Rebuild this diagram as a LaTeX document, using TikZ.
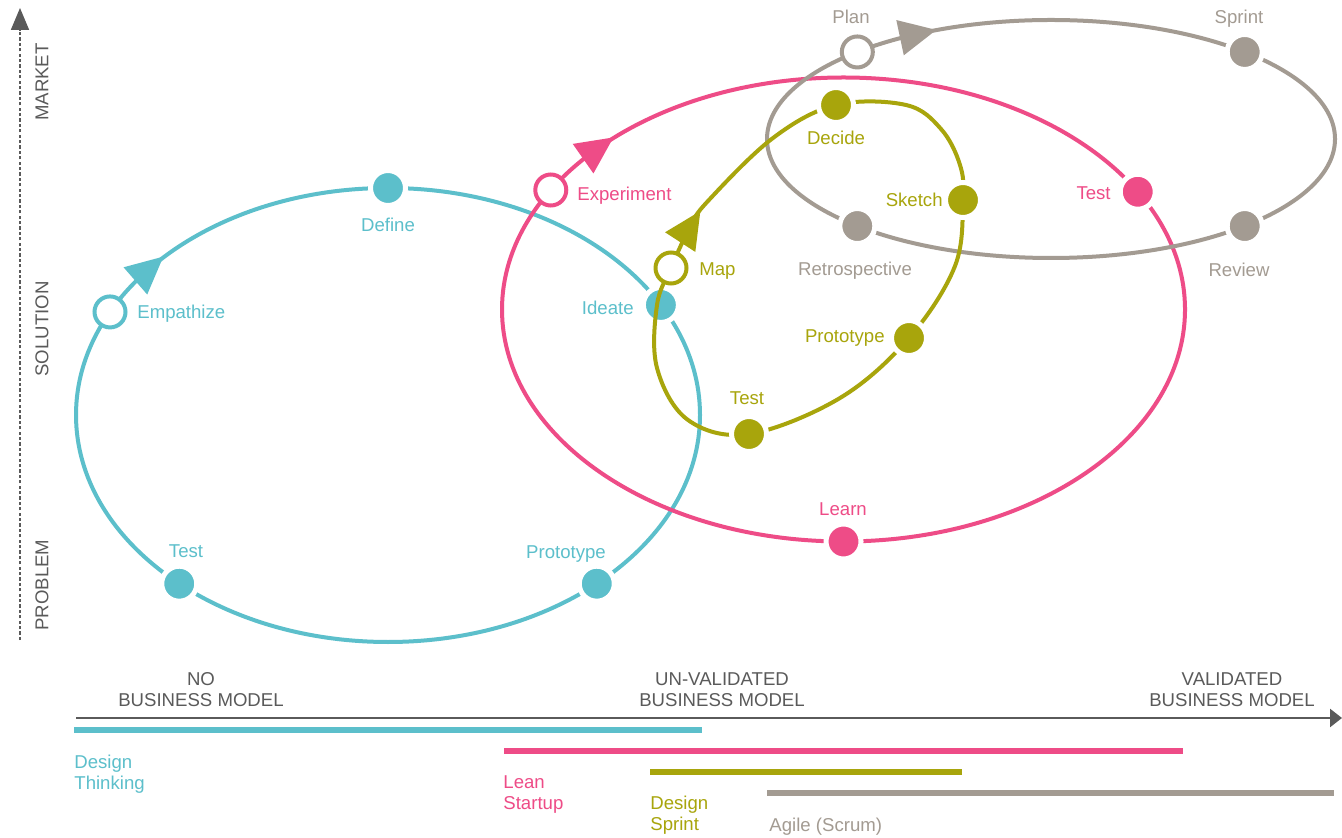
\documentclass[tikz,border=0pt]{standalone}
\usepackage{fontspec}
\setmainfont{Liberation Sans}
\usetikzlibrary{arrows.meta,calc}
\definecolor{dtc}{HTML}{5CBFCB}
\definecolor{lsc}{HTML}{EE4C87}
\definecolor{dsc}{HTML}{A8A50C}
\definecolor{agc}{HTML}{A39B92}
\definecolor{axc}{HTML}{5A5A5A}
\newcommand\arrhead[3]{\fill[#3] ($(#1)+(#2:19)$) -- ($(#1)+(#2+135:25.5)$) -- ($(#1)+(#2-135:25.5)$) -- cycle;}
\tikzset{
  dotnode/.style={circle, fill=#1, draw=white, line width=2.5pt, minimum size=17.5pt, inner sep=0pt},
  ringnode/.style={circle, fill=white, draw=#1, line width=2pt, minimum size=15.5pt, inner sep=0pt},
  loopline/.style={draw=#1, line width=2pt},
  txt/.style={text=#1, font=\fontsize{9.3}{11}\selectfont, inner sep=0pt},
  barline/.style={draw=#1, line width=3.25pt},
}
\begin{document}
\begin{tikzpicture}[x=0.5pt,y=-0.5pt]
\useasboundingbox[fill=white] (0,0) rectangle (1342,838);
% ---------- vertical axis
\coordinate (vb) at (20,640);
\coordinate (vt) at (20,8);
\draw[axc, line width=0.9pt, dash pattern=on 1.6pt off 1.1pt, -{Triangle[length=11pt,width=9pt]}] (vb) -- (vt);
\node[txt=axc, rotate=90] (market) at (42,82) {MARKET};
\node[txt=axc, rotate=90] (solution) at (42,329) {SOLUTION};
\node[txt=axc, rotate=90] (problem) at (42,585) {PROBLEM};
% ---------- horizontal axis
\coordinate (hl) at (76,718);
\coordinate (hr) at (1342,718);
\draw[axc, line width=1.25pt, -{Triangle[length=6pt,width=9pt]}] (hl) -- (hr);
\node[txt=axc, anchor=mid] (no1) at (201,680) {NO};
\node[txt=axc, anchor=mid] (no2) at (201,701) {BUSINESS MODEL};
\node[txt=axc, anchor=mid] (un1) at (722,680) {UN-VALIDATED};
\node[txt=axc, anchor=mid] (un2) at (722,701) {BUSINESS MODEL};
\node[txt=axc, anchor=mid] (va1) at (1232,680) {VALIDATED};
\node[txt=axc, anchor=mid] (va2) at (1232,701) {BUSINESS MODEL};
% ---------- bars
\coordinate (b1l) at (74,730);  \coordinate (b1r) at (702,730);
\coordinate (b2l) at (504,751); \coordinate (b2r) at (1183,751);
\coordinate (b3l) at (650,772); \coordinate (b3r) at (962,772);
\coordinate (b4l) at (767,793); \coordinate (b4r) at (1334,793);
\draw[barline=dtc] (b1l) -- (b1r);
\draw[barline=lsc] (b2l) -- (b2r);
\draw[barline=dsc] (b3l) -- (b3r);
\draw[barline=agc] (b4l) -- (b4r);
\node[txt=dtc, anchor=mid west] (dt1) at (74,763) {Design};
\node[txt=dtc, anchor=mid west] (dt2) at (74,784) {Thinking};
\node[txt=lsc, anchor=mid west] (ls1) at (503,783) {Lean};
\node[txt=lsc, anchor=mid west] (ls2) at (503,804) {Startup};
\node[txt=dsc, anchor=mid west] (ds1) at (650,804) {Design};
\node[txt=dsc, anchor=mid west] (ds2) at (650,825) {Sprint};
\node[txt=agc, anchor=mid west] (ag1) at (769,826) {Agile (Scrum)};
% ---------- Design Thinking loop
\coordinate (dtC) at (388,415);
\draw[loopline=dtc] (dtC) ellipse [x radius=312, y radius=227];
\coordinate (dtA) at ($(dtC)+(220:312 and 227)$);
\arrhead{dtA}{-41}{dtc}
\node[ringnode=dtc] (emp) at ($(dtC)+(207:312 and 227)$) {};
\node[dotnode=dtc] (def) at ($(dtC)+(270:312 and 227)$) {};
\node[dotnode=dtc] (ide) at ($(dtC)+(331:312 and 227)$) {};
\node[dotnode=dtc] (pro) at ($(dtC)+(48:312 and 227)$) {};
\node[dotnode=dtc] (tst) at ($(dtC)+(132:312 and 227)$) {};
\node[txt=dtc, anchor=mid west] (empL) at (137,313) {Empathize};
\node[txt=dtc, anchor=mid] (defL) at (388,226) {Define};
\node[txt=dtc, anchor=mid east] (ideL) at (634,309) {Ideate};
\node[txt=dtc, anchor=mid] (proL) at (566,553) {Prototype};
\node[txt=dtc, anchor=mid] (tstL) at (186,552) {Test};
% ---------- Lean Startup loop
\coordinate (lsC) at (843.5,309.5);
\draw[loopline=lsc] (lsC) ellipse [x radius=341.5, y radius=232];
\coordinate (lsA) at ($(lsC)+(224:341.5 and 232)$);
\arrhead{lsA}{-35}{lsc}
\node[ringnode=lsc] (exp) at ($(lsC)+(211:341.5 and 232)$) {};
\node[dotnode=lsc] (lst) at ($(lsC)+(329.5:341.5 and 232)$) {};
\node[dotnode=lsc] (lea) at ($(lsC)+(90:341.5 and 232)$) {};
\node[txt=lsc, anchor=mid west] (expL) at (577,195) {Experiment};
\node[txt=lsc, anchor=mid east] (lstL) at (1111,194) {Test};
\node[txt=lsc, anchor=mid] (leaL) at (843,510) {Learn};
% ---------- Agile loop
\coordinate (agC) at (1051,139);
\draw[loopline=agc] (agC) ellipse [x radius=284, y radius=119];
\coordinate (agA) at ($(agC)+(242:284 and 119)$);
\arrhead{agA}{-12}{agc}
\node[ringnode=agc] (pla) at ($(agC)+(227:284 and 119)$) {};
\node[dotnode=agc] (spr) at ($(agC)+(313:284 and 119)$) {};
\node[dotnode=agc] (rev) at ($(agC)+(47:284 and 119)$) {};
\node[dotnode=agc] (ret) at ($(agC)+(133:284 and 119)$) {};
\node[txt=agc, anchor=mid] (plaL) at (851,18) {Plan};
\node[txt=agc, anchor=mid] (sprL) at (1239,18) {Sprint};
\node[txt=agc, anchor=mid] (revL) at (1239,271) {Review};
\node[txt=agc, anchor=mid] (retL) at (855,270) {Retrospective};
% ---------- Design Sprint loop
\coordinate (dsA) at (690,227);
\draw[loopline=dsc] plot[smooth cycle, tension=0.6] coordinates {(671,268) (690,227) (708,201) (773,138) (836,105) (906,105) (941,129) (960,165) (963,200) (955,266) (909,338) (840,398) (749,434) (688,420) (657,368) (657,305)};
\arrhead{dsA}{-57}{dsc}
\node[ringnode=dsc] (map) at (671,268) {};
\node[dotnode=dsc] (dec) at (836,105) {};
\node[dotnode=dsc] (ske) at (963,200) {};
\node[dotnode=dsc] (dpr) at (909,338) {};
\node[dotnode=dsc] (dte) at (749,434) {};
\node[txt=dsc, anchor=mid west] (mapL) at (699,270) {Map};
\node[txt=dsc, anchor=mid] (decL) at (836,139) {Decide};
\node[txt=dsc, anchor=mid east] (skeL) at (943,201) {Sketch};
\node[txt=dsc, anchor=mid east] (dprL) at (885,337) {Prototype};
\node[txt=dsc, anchor=mid] (dteL) at (747,399) {Test};
\end{tikzpicture}
\end{document}
